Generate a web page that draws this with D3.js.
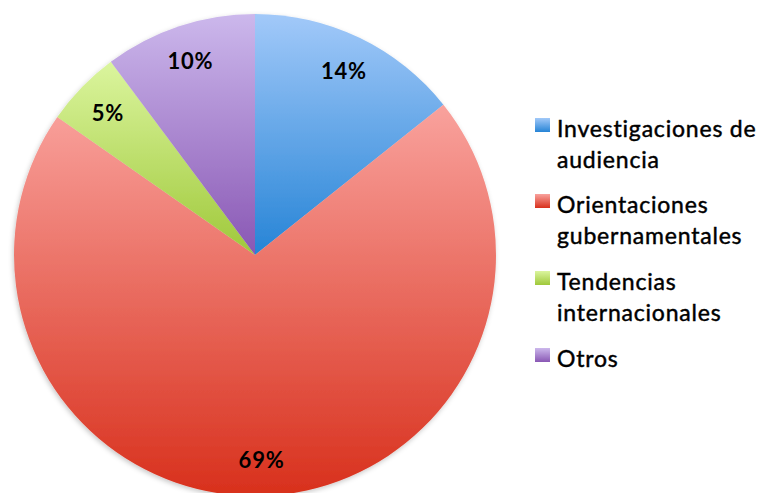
<!DOCTYPE html>
<html>
<head>
<meta charset="utf-8">
<script src="https://cdn.jsdelivr.net/npm/d3@7"></script>
<style>
  html, body { margin: 0; padding: 0; background: #ffffff; }
  svg { display: block; }
</style>
</head>
<body>
<svg id="chart" width="766" height="493"></svg>
<script>
// Source categories and their percentage shares
const categories = [
  "Investigaciones de audiencia",
  "Orientaciones gubernamentales",
  "Tendencias internacionales",
  "Otros"
];
const legendLines = [
  ["Investigaciones de", "audiencia"],
  ["Orientaciones", "gubernamentales"],
  ["Tendencias", "internacionales"],
  ["Otros"]
];
const values = [14, 69, 5, 10];

// Light (top) and dark (bottom) stops of each slice's vertical gradient
const topColors = ["#a2c9f9", "#f9a29d", "#dbf59e", "#ccb8ec"];
const bottomColors = ["#2684d6", "#d8301c", "#9fc83a", "#8957b4"];

const svg = d3.select("#chart");
const cx = 255, cy = 255, radius = 241;

const defs = svg.append("defs");

categories.forEach((c, i) => {
  const g = defs.append("linearGradient")
    .attr("id", "grad" + i)
    .attr("x1", 0).attr("y1", 0).attr("x2", 0).attr("y2", 1);
  g.append("stop").attr("offset", "0%").attr("stop-color", topColors[i]);
  g.append("stop").attr("offset", "100%").attr("stop-color", bottomColors[i]);
});

const shadow = defs.append("filter").attr("id", "pieShadow")
  .attr("x", "-10%").attr("y", "-10%").attr("width", "120%").attr("height", "120%");
shadow.append("feDropShadow")
  .attr("dx", -1).attr("dy", 2).attr("stdDeviation", 2.5)
  .attr("flood-color", "#000").attr("flood-opacity", 0.22);

const pie = d3.pie().sort(null).value(d => d)(values);
const arc = d3.arc().innerRadius(0).outerRadius(radius);
const labelArc = d3.arc().innerRadius(radius * 0.85).outerRadius(radius * 0.85);

const gPie = svg.append("g")
  .attr("transform", `translate(${cx},${cy})`);

gPie.append("g").attr("filter", "url(#pieShadow)")
  .selectAll("path")
  .data(pie)
  .join("path")
  .attr("d", arc)
  .attr("fill", (d, i) => `url(#grad${i})`);

gPie.selectAll("text.pct")
  .data(pie)
  .join("text")
  .attr("class", "pct")
  .attr("transform", d => {
    const [x, y] = labelArc.centroid(d);
    return `translate(${x},${y})`;
  })
  .attr("text-anchor", "middle")
  .attr("dominant-baseline", "central")
  .style("font-family", "Lato, 'Open Sans', sans-serif")
  .style("font-weight", "bold")
  .style("font-size", "22px")
  .style("letter-spacing", "0.8px")
  .style("fill", "#000")
  .text(d => d.data + "%");

// Legend
const legend = svg.append("g").attr("transform", "translate(535,0)");
const itemY = [137, 213, 290, 367];
const lineH = 31;

legendLines.forEach((lines, i) => {
  const item = legend.append("g").attr("transform", `translate(0,${itemY[i]})`);
  item.append("rect")
    .attr("x", 0).attr("y", -19)
    .attr("width", 15).attr("height", 14)
    .attr("fill", `url(#grad${i})`);
  const t = item.append("text")
    .attr("x", 22).attr("y", 0)
    .style("font-family", "Lato, 'Open Sans', sans-serif")
    .style("font-size", "23px")
    .style("letter-spacing", "0.8px")
    .style("fill", "#000")
    .style("stroke", "#000")
    .style("stroke-width", "0.45px");
  lines.forEach((ln, j) => {
    t.append("tspan").attr("x", 22).attr("y", j * lineH).text(ln);
  });
});
</script>
</body>
</html>
